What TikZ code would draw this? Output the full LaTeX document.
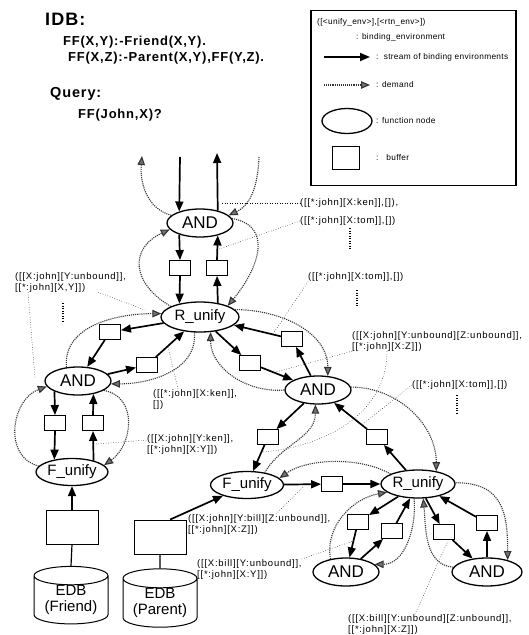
\documentclass[tikz,border=0pt]{standalone}
\usepackage{fontspec}
\setmainfont{Liberation Sans}
\newfontfamily\progfont[LetterSpace=6]{Liberation Sans}
\newfontfamily\lblfont[LetterSpace=8]{Liberation Sans}
\newfontfamily\legfont[LetterSpace=4]{Liberation Sans}
\usetikzlibrary{shapes.geometric}
\usetikzlibrary{arrows.meta}

\begin{document}
\begin{tikzpicture}[x=1pt, y=-1pt,
  func/.style={ellipse, draw, line width=1.3pt, inner sep=0pt},
  andnode/.style={func, minimum width=66pt, minimum height=28pt, font=\fontsize{17}{17}\selectfont},
  unifynode/.style={func, minimum width=78pt, minimum height=30pt, font=\fontsize{15}{15}\selectfont},
  buf/.style={draw, line width=0.9pt, minimum width=21pt, minimum height=15pt, inner sep=0pt},
  edbbuf/.style={draw, line width=0.9pt, minimum width=52pt, minimum height=34pt, inner sep=0pt},
  edb/.style={cylinder, shape border rotate=90, draw, line width=1pt, aspect=0.35, minimum width=74pt, minimum height=55pt, inner sep=0pt, align=center, font=\fontsize{15}{16}\selectfont},
  stream/.style={line width=1.7pt, -{Triangle[length=10pt,width=8pt]}},
  demand/.style={line width=1.1pt, densely dotted, draw=black!80, -{Triangle[length=9pt,width=7.5pt,fill=black!55]}},
  leader/.style={line width=0.5pt, dotted},
  env/.style={inner sep=0pt, align=left, font=\lblfont\fontsize{9.5}{11}\selectfont},
  more/.style={line width=2.6pt, dash pattern=on 1.2pt off 1.3pt},
  prog/.style={inner sep=0pt, anchor=west, font=\progfont\bfseries\fontsize{13}{13}\selectfont},
  legtext/.style={inner sep=0pt, anchor=west, font=\legfont\fontsize{8.3}{9}\selectfont}]

\useasboundingbox (0,0) rectangle (529,635);

\node[prog, font=\progfont\bfseries\fontsize{18}{18}\selectfont] (idb) at (45,19) {IDB:};
\node[prog] (rule1) at (63,42) {FF(X,Y):-Friend(X,Y).};
\node[prog] (rule2) at (68,58) {FF(X,Z):-Parent(X,Y),FF(Y,Z).};
\node[prog, font=\progfont\bfseries\fontsize{14.5}{15}\selectfont] (query) at (50,94) {Query:};
\node[prog] (goal) at (78,115) {FF(John,X)?};

\node[draw, line width=1.2pt, minimum width=205pt, minimum height=175pt, inner sep=0pt] (legend) at (413.5,98) {};
\node[legtext] (lenv) at (317,22) {([<unify\_env>],[<rtn\_env>])};
\node[legtext] (lenvt) at (356,37) {: binding\_environment};
\coordinate (ls1) at (324,57);
\coordinate (ls2) at (370,57);
\draw[stream] (ls1) -- (ls2);
\node[legtext] (lstream) at (376,57) {:\ \ stream of binding environments};
\coordinate (ld1) at (324,85);
\coordinate (ld2) at (370,85);
\draw[demand] (ld1) -- (ld2);
\node[legtext] (ldemand) at (376,85) {: demand};
\node[func, minimum width=50pt, minimum height=25pt] (lfunc) at (347,121) {};
\node[legtext] (lfunct) at (376,121) {: function node};
\node[buf, minimum width=27pt, minimum height=23pt] (lbuf) at (346,158) {};
\node[legtext] (lbuft) at (376,158) {:\ \ \ buffer};

\node[andnode] (and1) at (200,223) {AND};
\node[unifynode] (runify1) at (200,317) {R\_unify};
\node[andnode] (and2) at (78,381) {AND};
\node[andnode] (and3) at (318,390) {AND};
\node[unifynode, minimum width=72pt, minimum height=27pt] (funify1) at (72,472) {F\_unify};
\node[unifynode, minimum width=73pt, minimum height=27pt] (funify2) at (247,485) {F\_unify};
\node[unifynode, minimum width=74pt, minimum height=28pt] (runify2) at (418,484) {R\_unify};
\node[andnode] (and4) at (346,572) {AND};
\node[andnode, minimum width=70pt] (and5) at (487,572) {AND};

\foreach \name/\x/\y in {b1/180/268, b2/217/268, bA/110/332, bB/147/365, bR/292/339, bS/250/363,
    bL/55/423, bM/93/423, bD/268/437, bE/377/437, bC/332/484, bF/358/522, bG/392/531,
    bH/444/532, bI/487/523} {
    \node[buf] (\name) at (\x,\y) {};
}

\node[edbbuf] (fbuf) at (72,527) {};
\node[edbbuf] (pbuf) at (160,537) {};
\node[edb] (friend) at (71,600) {EDB\\(Friend)};
\node[edb] (parent) at (160,603) {EDB\\(Parent)};
\draw[line width=1.2pt] (fbuf.south) -- (friend.north);
\draw[line width=1.2pt] (pbuf.south) -- (parent.north);

\coordinate (inT) at (180,157);
\coordinate (outT) at (217,153);
\draw[stream] (inT) -- (and1.151);
\draw[stream] (and1.35) -- (outT);
\draw[stream] (and1.209) -- (b1.north);
\draw[stream] (b1.south) -- (runify1.147);
\draw[stream] (runify1.38) -- (b2.south);
\draw[stream] (b2.north) -- (and1.-35);

\draw[stream] (runify1) -- (bA);
\draw[stream] (bA) -- (and2);
\draw[stream] (and2) -- (bB);
\draw[stream] (bB) -- (runify1);
\draw[stream] (runify1) -- (bS);
\draw[stream] (bS) -- (and3);
\draw[stream] (and3) -- (bR);
\draw[stream] (bR) -- (runify1);

\draw[stream] (and2.204) -- (bL.north);
\draw[stream] (bL.south) -- (funify1.145);
\draw[stream] (funify1.28) -- (bM.south);
\draw[stream] (bM.north) -- (and2.-40);
\draw[stream] (fbuf.north) -- (funify1.south);

\draw[stream] (and3) -- (bD);
\draw[stream] (bD) -- (funify2);
\draw[stream] (pbuf.60) -- (funify2);
\draw[stream] (funify2) -- (bC);
\draw[stream] (bC) -- (runify2);
\draw[stream] (runify2) -- (bE);
\draw[stream] (bE) -- (and3);

\draw[stream] (runify2) -- (bF);
\draw[stream] (bF) -- (and4);
\draw[stream] (and4) -- (bG);
\draw[stream] (bG) -- (runify2);
\draw[stream] (runify2) -- (bH);
\draw[stream] (bH) -- (and5);
\draw[stream] (and5) -- (bI);
\draw[stream] (bI) -- (runify2);

\coordinate (dtl) at (142,156);
\coordinate (dtr) at (259,157);
\draw[demand] (and1.165) to[out=165, in=-95] (dtl);
\draw[demand] (dtr) to[out=-92, in=25] (and1.15);
\draw[demand] (runify1.160) to[out=150, in=205, looseness=1.5] (and1.192);
\draw[demand] (and1.8) to[out=-10, in=50, looseness=1.3] (runify1.22);
\draw[demand] (and2.130) to[out=95, in=180] (runify1.175);
\draw[demand] (runify1.250) to[out=-85, in=0] (and2.-5);
\draw[demand] (funify1.170) to[out=165, in=200, looseness=1.2] (and2.190);
\draw[demand] (and2.-20) to[out=-10, in=35, looseness=1.2] (funify1.12);
\draw[demand] (and3.180) to[out=185, in=-90] (runify1.-55);
\draw[demand] (runify1.12) to[out=0, in=90] (and3.55);
\draw[demand] (and3.5) to[out=0, in=90] (runify2.35);
\draw[demand] (funify2.35) to[out=60, in=-90] (and3.-100);
\draw[demand] (runify2.160) to[out=150, in=35, looseness=0.8] (funify2.12);
\draw[demand] (and4.140) to[out=100, in=190] (runify2.195);
\draw[demand] (runify2.-105) to[out=-85, in=0] (and4.15);
\draw[demand] (runify2.2) to[out=0, in=90, looseness=1.3] (and5.30);
\draw[demand] (and5.172) to[out=175, in=-85] (runify2.-70);

\node[env, anchor=west] (e1) at (300,203) {([[*:john][X:ken]],[]),};
\node[env, anchor=west] (e2) at (300,221) {([[*:john][X:tom]],[])};
\coordinate (p1) at (222,203);
\coordinate (p2) at (219,249);
\draw[leader] (p1) -- (e1.west);
\draw[leader] (p2) -- (e2.west);
\draw[more] (350,228) -- (350,250);

\node[env, anchor=west] (e3) at (308,277) {([[*:john][X:tom]],[])};
\coordinate (p3) at (273,334);
\draw[leader] (e3.south west) -- (p3);
\draw[more] (357,290) -- (357,307);

\node[env, anchor=north west] (e4) at (352,331) {([[X:john][Y:unbound][Z:unbound]],\\{}[[*:john][X:Z]])};
\coordinate (p4a) at (272,373);
\coordinate (p4b) at (263,452);
\draw[leader] (e4.south west) -- (p4a);
\draw[leader] ([xshift=35pt]e4.south west) to[out=-90, in=5] (p4b);

\node[env, anchor=west] (e5) at (412,385) {([[*:john][X:tom]],[])};
\coordinate (p5) at (363,424);
\draw[leader] (e5.west) -- (p5);
\draw[more] (457,395) -- (457,413);

\node[env, anchor=north west] (e6) at (15,272) {([[X:john][Y:unbound]],\\{}[[*:john][X,Y]])};
\coordinate (p6a) at (145,310);
\coordinate (p6b) at (35,378);
\draw[leader] ([xshift=-28pt]e6.south east) -- (p6a);
\draw[leader] ([xshift=13pt]e6.south west) -- (p6b);
\draw[more] (63,303) -- (63,322);

\node[env, anchor=north west] (e7) at (153,389) {([[*:john][X:ken]],\\{}[])};
\coordinate (p7) at (168,347);
\draw[leader] ([xshift=25pt]e7.north west) -- (p7);

\node[env, anchor=north west] (e8) at (147,434) {([[X:john][Y:ken]],\\{}[[*:john][X:Y]])};
\coordinate (p8) at (96,444);
\draw[leader] (p8) -- ([yshift=-6pt]e8.north west);

\node[env, anchor=north west] (e9) at (188,514) {([[X:john][Y:bill][Z:unbound]],\\{}[[*:john][X:Z]])};
\coordinate (p9) at (303,487);
\draw[leader] ([xshift=88pt]e9.north west) -- (p9);

\node[env, anchor=north west] (e10) at (197,559) {([[X:bill][Y:unbound]],\\{}[[*:john][X:Y]])};
\coordinate (p10) at (353,541);
\draw[leader] (e10.north east) -- (p10);

\node[env, anchor=north west] (e11) at (348,614) {([[X:bill][Y:unbound][Z:unbound]],\\{}[[*:john][X:Z]])};
\coordinate (p11) at (448,541);
\draw[leader] ([xshift=67pt]e11.north west) -- (p11);

\end{tikzpicture}
\end{document}
